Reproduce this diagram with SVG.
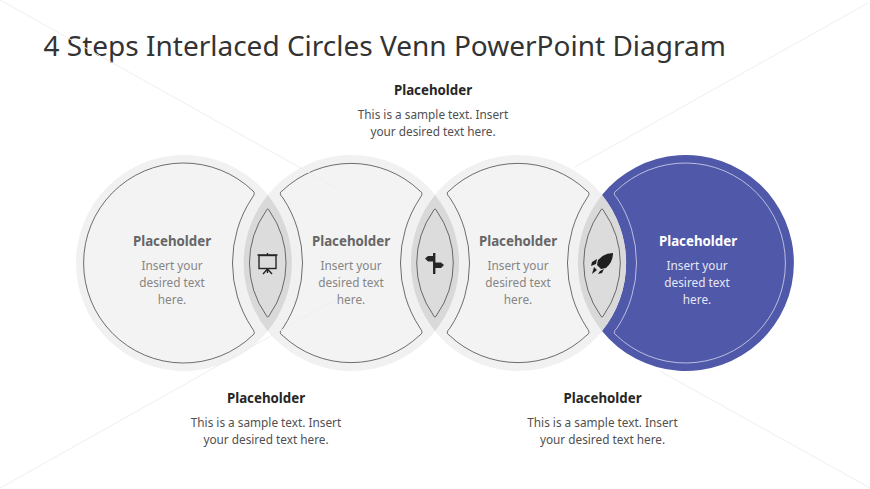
<svg xmlns="http://www.w3.org/2000/svg" width="870" height="489" viewBox="0 0 870 489">
<style>
.t{font-family:"Noto Sans","Open Sans",sans-serif;font-size:28px;fill:#333}
.h,.b{font-family:"Noto Sans","Open Sans",sans-serif;text-anchor:middle}
.h{font-size:13.300px;font-weight:700;fill:#262626}
.b{font-size:11.800px;fill:#505050}
.ch{fill:#666}.cb{fill:#858585}
.w{fill:#fff}
.o{fill:#f1f1f1}
.i{fill:#f3f3f3;stroke:#4a4a4a;stroke-width:.8}
.l{fill:#d9d9d9}
.li{fill:#dcdcdc;stroke:#4a4a4a;stroke-width:.8}
.wm{stroke:#eeeeee;stroke-width:1;fill:none}
</style>
<rect width="870" height="489" fill="#fff"/>
<text class="t" x="43.500" y="56">4 Steps Interlaced Circles Venn PowerPoint Diagram</text>
<g id="top-label"><text class="h" x="433" y="95">Placeholder</text><text class="b" x="433" y="119">This is a sample text. Insert</text><text class="b" x="433" y="136">your desired text here.</text></g>
<g id="bottom-left-label"><text class="h" x="266" y="403">Placeholder</text><text class="b" x="266" y="427">This is a sample text. Insert</text><text class="b" x="266" y="444">your desired text here.</text></g>
<g id="bottom-right-label"><text class="h" x="602.5" y="403">Placeholder</text><text class="b" x="602.5" y="427">This is a sample text. Insert</text><text class="b" x="602.5" y="444">your desired text here.</text></g>
<g id="circle-1"><circle class="o" cx="184" cy="263" r="108"/>
<path class="i" d="M252 198Q256 193 253 191A100 100 0 1 0 253 335Q256 333 252 328A118 118 0 0 1 252 198Z"/>
<text class="h ch" x="172" y="245.500">Placeholder</text><text class="b cb" x="172" y="270">Insert your</text><text class="b cb" x="172" y="287">desired text</text><text class="b cb" x="172" y="304">here.</text></g>
<g id="circle-2"><circle class="o" cx="351.5" cy="263" r="108"/>
<path class="i" d="M283 198Q278 193 282 191A100 100 0 0 1 420 191Q424 193 420 198A118 118 0 0 0 420 328Q424 333 420 335A100 100 0 0 1 282 335Q278 333 283 328A118 118 0 0 0 283 198Z"/>
<text class="h ch" x="351" y="245.500">Placeholder</text><text class="b cb" x="351" y="270">Insert your</text><text class="b cb" x="351" y="287">desired text</text><text class="b cb" x="351" y="304">here.</text></g>
<g id="circle-3"><circle class="o" cx="518.5" cy="263" r="108"/>
<path class="i" d="M450 198Q445 193 449 191A100 100 0 0 1 587 191Q591 193 587 198A118 118 0 0 0 587 328Q591 333 587 335A100 100 0 0 1 449 335Q445 333 450 328A118 118 0 0 0 450 198Z"/>
<text class="h ch" x="518" y="245.500">Placeholder</text><text class="b cb" x="518" y="270">Insert your</text><text class="b cb" x="518" y="287">desired text</text><text class="b cb" x="518" y="304">here.</text></g>
<g id="background"><path class="wm" d="M0 0 340 190M868 3 575 167M335 300 0 488M660 371 870 488"/></g>
<g id="circle-4"><path fill="#4f58a9" d="M602 195A108 108 0 1 1 602 331A108 108 0 0 0 602 195Z"/>
<path fill="none" stroke="#d5d8ee" stroke-width=".8" d="M617 198Q612 193 616 191A100 100 0 1 1 616 335Q612 333 617 328A118 118 0 0 0 617 198Z"/>
<text class="h w" x="698" y="245.500">Placeholder</text><text class="b" style="fill:#e6e7f3" x="697" y="270">Insert your</text><text class="b" style="fill:#e6e7f3" x="697" y="287">desired text</text><text class="b" style="fill:#e6e7f3" x="697" y="304">here.</text></g>
<g id="lens-1"><path class="l" d="M267.750 195A108 108 0 0 1 267.750 331A108 108 0 0 1 267.750 195Z"/><path class="li" d="M266 211Q267.750 207 269.500 211A90 90 0 0 1 269.500 315Q267.750 319 266 315A90 90 0 0 1 266 211Z"/>
<g fill="none" stroke="#262626" stroke-width="1.4"><rect x="259" y="255.500" width="17" height="13"/><path d="M257.500 255H277.500M267.500 253V255M267.500 269V273M267.500 269 263 274M267.500 269 272 274"/></g></g>
<g id="lens-2"><path class="l" d="M435 195A108 108 0 0 1 435 331A108 108 0 0 1 435 195Z"/><path class="li" d="M433.250 211Q435 207 436.750 211A90 90 0 0 1 436.750 315Q435 319 433.250 315A90 90 0 0 1 433.250 211Z"/>
<g fill="#262626"><rect x="433" y="253" width="2.400" height="21"/><path d="M425 258.500 428 256H434V261.500H428ZM434 262.500H441L444 265 441 268H434Z"/></g></g>
<g id="lens-3"><path class="l" d="M602 195A108 108 0 0 1 602 331A108 108 0 0 1 602 195Z"/><path class="li" d="M600.250 211Q602 207 603.750 211A90 90 0 0 1 603.750 315Q602 319 600.250 315A90 90 0 0 1 600.250 211Z"/>
<g fill="#1f1f1f"><path d="M613 253Q604 253 598 260L597 265 601 269 606 268Q613 262 613 253ZM597 259 592 262 591 266 596 264ZM604 269 600 271 598 274 602 273ZM594 267 597 270 592 274Z"/></g></g>
</svg>
